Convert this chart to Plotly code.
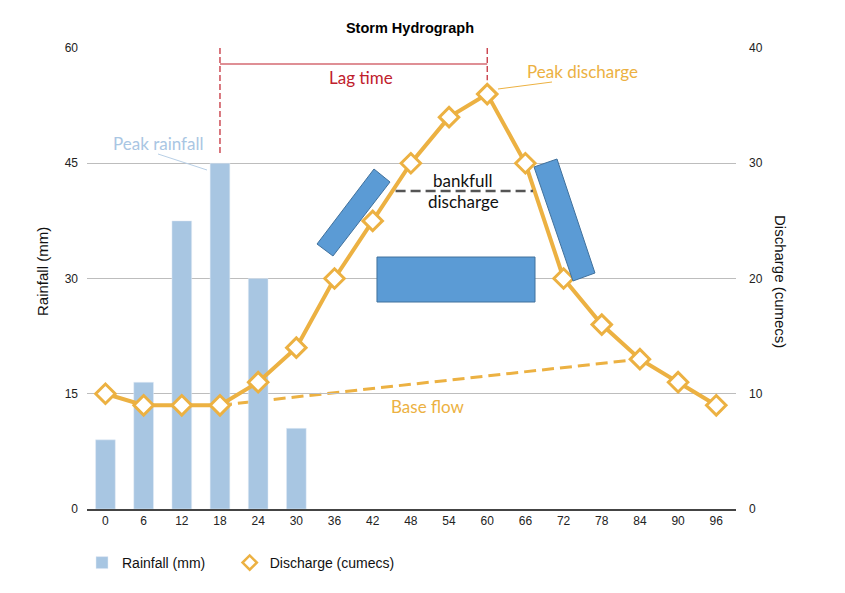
import plotly.graph_objects as go

hours = [0, 6, 12, 18, 24, 30, 36, 42, 48, 54, 60, 66, 72, 78, 84, 90, 96]
rainfall = [9, 16.5, 37.5, 45, 30, 10.5]
discharge = [10, 9, 9, 9, 11, 14, 20, 25, 30, 34, 36, 30, 20, 16, 13, 11, 9]
rain_ticks = [0, 15, 30, 45, 60]
flow_ticks = [0, 10, 20, 30, 40]

BAR = '#a8c6e2'
ORANGE = '#ecb142'
BLUE = '#5b9bd5'
RED = '#c0202c'
SANS = 'Liberation Sans, Arial'
TICKFONT = dict(family=SANS, size=12, color='#222')
NOTEFONT = 'Lato, Open Sans'

# page is 845x593, the browser adds an 8px body margin
PAGE_W, PAGE_H, OFF = 845, 593, 8
W, H = PAGE_W - 2 * OFF, PAGE_H - 2 * OFF
# plot area in page pixels
L, R, T, B = 87, 736, 48, 509


def px(x, y):
    return (x - L) / (R - L), (B - y) / (B - T)


def note(x, y, text, size, color, angle=0, family=NOTEFONT):
    ax, ay = px(x, y)
    return dict(xref='paper', yref='paper', x=ax, y=ay, text=text, showarrow=False,
                xanchor='center', yanchor='middle', textangle=angle,
                font=dict(family=family, size=size, color=color))


fig = go.Figure()

fig.add_trace(go.Bar(
    x=hours[:len(rainfall)], y=rainfall, name='Rainfall (mm)' + '\u00a0' * 5,
    marker=dict(color=BAR), width=3.1, yaxis='y'))

fig.add_trace(go.Scatter(
    x=hours, y=discharge, mode='lines+markers', yaxis='y2',
    line=dict(color=ORANGE, width=4),
    marker=dict(symbol='diamond', size=15, color='white',
                line=dict(color=ORANGE, width=3)),
    showlegend=False))

# legend-only entry (diamond only)
fig.add_trace(go.Scatter(
    x=[None], y=[None], mode='markers', name='Discharge (cumecs)', yaxis='y2',
    marker=dict(symbol='diamond', size=11, color='white',
                line=dict(color=ORANGE, width=2.5))))

shapes = []
annotations = []


def poly(points):
    p = [px(x, y) for x, y in points]
    return 'M ' + ' L '.join(f'{a:.4f},{b:.4f}' for a, b in p) + ' Z'


# blue boxes
for pts in ([(317, 244), (333, 256), (390, 182), (374, 169)],
            [(534, 167), (557, 159), (595, 273), (573, 281)],
            [(377, 257), (535, 257), (535, 302), (377, 302)]):
    shapes.append(dict(type='path', xref='paper', yref='paper', path=poly(pts),
                       fillcolor=BLUE, line=dict(color='#41719c', width=1),
                       layer='above'))

# lag time
shapes.append(dict(type='line', xref='x', yref='y', x0=18, x1=18, y0=60, y1=46.2,
                   line=dict(color=RED, width=1.2, dash='6px,3px')))
shapes.append(dict(type='line', xref='x', yref='y2', x0=60, x1=60, y0=40, y1=37.2,
                   line=dict(color=RED, width=1.2, dash='6px,3px')))
shapes.append(dict(type='line', xref='x', yref='paper', x0=18, x1=60,
                   y0=px(0, 64)[1], y1=px(0, 64)[1], line=dict(color=RED, width=1.2)))
annotations.append(note(361, 77, 'Lag time', 17, RED))

# base flow
shapes.append(dict(type='line', xref='x', yref='y2', x0=18, y0=9, x1=84, y1=13,
                   line=dict(color=ORANGE, width=3, dash='12px,6px'), layer='below'))
annotations.append(note(428, 406, 'Base flow', 17, ORANGE))

# bankfull
shapes.append(dict(type='line', xref='x', yref='y2', x0=45.6, x1=67.2, y0=27.6, y1=27.6,
                   line=dict(color='#555555', width=2.5, dash='10px,5px')))
annotations.append(note(463, 180, 'bankfull', 17, '#111'))
annotations.append(note(463, 202, 'discharge', 17, '#111'))

# peak labels
x0, y0 = px(158, 154)
x1, y1 = px(207, 170)
shapes.append(dict(type='line', xref='paper', yref='paper', x0=x0, y0=y0, x1=x1, y1=y1,
                   line=dict(color='#b8cfe6', width=1)))
annotations.append(note(158, 143, 'Peak rainfall', 17, '#a9c6e3'))
x0, y0 = px(498, 89)
x1, y1 = px(552, 82)
shapes.append(dict(type='line', xref='paper', yref='paper', x0=x0, y0=y0, x1=x1, y1=y1,
                   line=dict(color=ORANGE, width=1)))
annotations.append(note(582, 71, 'Peak discharge', 17, ORANGE))

# axis titles
annotations.append(note(42, 272, 'Rainfall (mm)', 15, '#111', -90, SANS))
annotations.append(note(781, 281, 'Discharge (cumecs)', 15, '#111', 90, SANS))

fig.update_layout(
    width=W, height=H,
    margin=dict(l=L - OFF, r=W - (R - OFF), t=T - OFF, b=H - (B - OFF)),
    paper_bgcolor='white', plot_bgcolor='white',
    title=dict(text='<b>Storm Hydrograph</b>', x=(410 - OFF) / W, xanchor='center',
               y=1 - (28 - OFF) / H, yanchor='middle',
               font=dict(family=SANS, size=14.5, color='#000')),
    xaxis=dict(range=[-2.9, 99.1], tickvals=hours, ticktext=[str(h) for h in hours],
               showgrid=False, zeroline=False, showline=True, linecolor='#444',
               linewidth=2, ticks='', tickfont=TICKFONT),
    yaxis=dict(range=[0, 60], tickvals=rain_ticks, showgrid=True, gridcolor='#bdbdbd',
               gridwidth=1, zeroline=False, showline=False, ticks='', tickfont=TICKFONT,
               ticklabelstandoff=8),
    yaxis2=dict(range=[0, 40], tickvals=flow_ticks, overlaying='y', side='right',
                showgrid=False, zeroline=False, showline=False, ticks='',
                tickfont=TICKFONT, ticklabelstandoff=12),
    legend=dict(orientation='h', xref='container', yref='container',
                x=(82 - OFF) / W, y=1 - (563 - OFF) / H, yanchor='middle', xanchor='left',
                font=dict(family=SANS, size=14, color='#111'),
                itemwidth=30, tracegroupgap=0),
    shapes=shapes, annotations=annotations,
)

fig.write_html('out.html')
